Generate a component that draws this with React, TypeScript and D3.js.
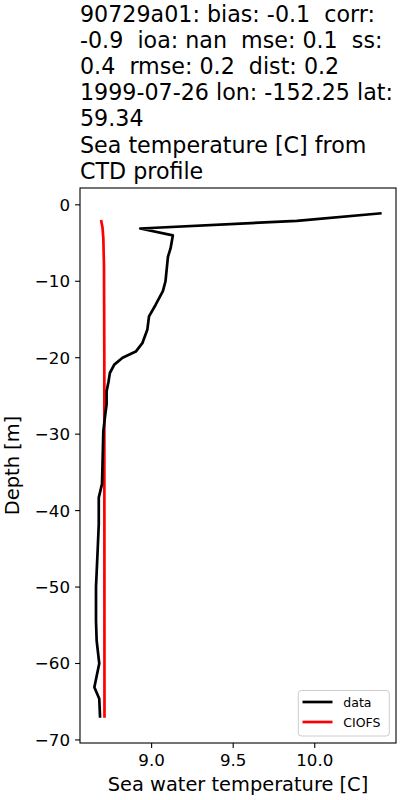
import React from "react";
import * as d3 from "d3";

const titleLines = [
  "90729a01: bias: -0.1  corr:",
  "-0.9  ioa: nan  mse: 0.1  ss:",
  "0.4  rmse: 0.2  dist: 0.2",
  "1999-07-26 lon: -152.25 lat:",
  "59.34",
  "Sea temperature [C] from",
  "CTD profile",
];

const dataDepth = [-1.1, -2.1, -3.1, -4.0, -5.7, -6.8, -10.0, -11.3, -13.1, -14.6, -16.3, -18.1, -19.2, -20.0, -20.9, -22.0, -23.1, -24.4, -26.1, -27.4, -29.6, -36.5, -38.3, -41.8, -44.8, -50.0, -54.4, -57.0, -60.0, -63.1, -64.6, -67.1];
const dataTemp = [10.41, 9.89, 8.93, 9.13, 9.116, 9.10, 9.085, 9.069, 9.024, 8.984, 8.974, 8.943, 8.903, 8.822, 8.771, 8.744, 8.736, 8.724, 8.724, 8.716, 8.704, 8.696, 8.676, 8.676, 8.670, 8.659, 8.659, 8.663, 8.679, 8.649, 8.679, 8.684];

const ciofsDepth = [-2.0, -3.0, -4.4, -8.0, -20.0, -67.1];
const ciofsTemp = [8.690, 8.699, 8.704, 8.708, 8.710, 8.711];

const xTicks = [9.0, 9.5, 10.0];
const yTicks = [0, -10, -20, -30, -40, -50, -60, -70];

const seriesNames = ["data", "CIOFS"];
const seriesColors = ["#000000", "#ff0000"];

const FONT = "'DejaVu Sans', sans-serif";

export default function App() {
  const left = 80, right = 396, top = 188, bottom = 743;

  const allT = [...dataTemp, ...ciofsTemp];
  const allD = [...dataDepth, ...ciofsDepth];
  const [tMin, tMax] = d3.extent(allT) as [number, number];
  const [dMin, dMax] = d3.extent(allD) as [number, number];
  const tPad = (tMax - tMin) * 0.05;
  const dPad = (dMax - dMin) * 0.05;

  const x = d3.scaleLinear().domain([tMin - tPad, tMax + tPad]).range([left, right]);
  const y = d3.scaleLinear().domain([dMin - dPad, dMax + dPad]).range([bottom, top]);

  const line = d3
    .line<[number, number]>()
    .x((d) => x(d[0]))
    .y((d) => y(d[1]));

  const dataPts = dataTemp.map((t, i) => [t, dataDepth[i]] as [number, number]);
  const ciofsPts = ciofsTemp.map((t, i) => [t, ciofsDepth[i]] as [number, number]);

  const fmtY = (v: number) => (v < 0 ? "\u2212" + Math.abs(v) : String(v));
  const LW = 2.7;

  return (
    <svg
      width={400}
      height={800}
      style={{ position: "absolute", left: 0, top: 0, background: "#fff" }}
      fontFamily={FONT}
    >
      <rect x={0} y={0} width={400} height={800} fill="#fff" />
      {titleLines.map((t, i) => (
        <text key={i} x={80} y={21.5 + i * 26.2} fontSize={22.2} fill="#000" style={{ whiteSpace: "pre" }}>
          {t}
        </text>
      ))}

      <g>
        <path d={line(ciofsPts) || ""} fill="none" stroke={seriesColors[1]} strokeWidth={LW} strokeLinejoin="round" strokeLinecap="butt" />
        <path d={line(dataPts) || ""} fill="none" stroke={seriesColors[0]} strokeWidth={LW} strokeLinejoin="round" strokeLinecap="butt" />
      </g>

      <rect x={left} y={top} width={right - left} height={bottom - top} fill="none" stroke="#000" strokeWidth={1.1} />

      {xTicks.map((v) => (
        <g key={v}>
          <line x1={x(v)} x2={x(v)} y1={bottom} y2={bottom + 4.9} stroke="#000" strokeWidth={1.1} />
          <text x={x(v)} y={766} textAnchor="middle" fontSize={16.7} fill="#000">
            {v.toFixed(1)}
          </text>
        </g>
      ))}
      {yTicks.map((v) => (
        <g key={v}>
          <line x1={left - 4.9} x2={left} y1={y(v)} y2={y(v)} stroke="#000" strokeWidth={1.1} />
          <text x={70} y={y(v) + 6} textAnchor="end" fontSize={16.7} fill="#000">
            {fmtY(v)}
          </text>
        </g>
      ))}

      <text x={(left + right) / 2} y={791} textAnchor="middle" fontSize={19.4} fill="#000">
        Sea water temperature [C]
      </text>
      <text
        transform={`translate(19,${(top + bottom) / 2}) rotate(-90)`}
        textAnchor="middle"
        fontSize={19.4}
        fill="#000"
      >
        Depth [m]
      </text>

      <g>
        <rect x={298.3} y={690.5} width={91} height={45.5} rx={3} fill="#fff" fillOpacity={0.8} stroke="#cccccc" strokeWidth={1} />
        {seriesNames.map((n, i) => (
          <g key={n}>
            <line x1={302.5} x2={332.5} y1={702 + i * 20} y2={702 + i * 20} stroke={seriesColors[i]} strokeWidth={LW} />
            <text x={343.3} y={706.5 + i * 20} fontSize={12.5} fill="#000">
              {n}
            </text>
          </g>
        ))}
      </g>
    </svg>
  );
}
